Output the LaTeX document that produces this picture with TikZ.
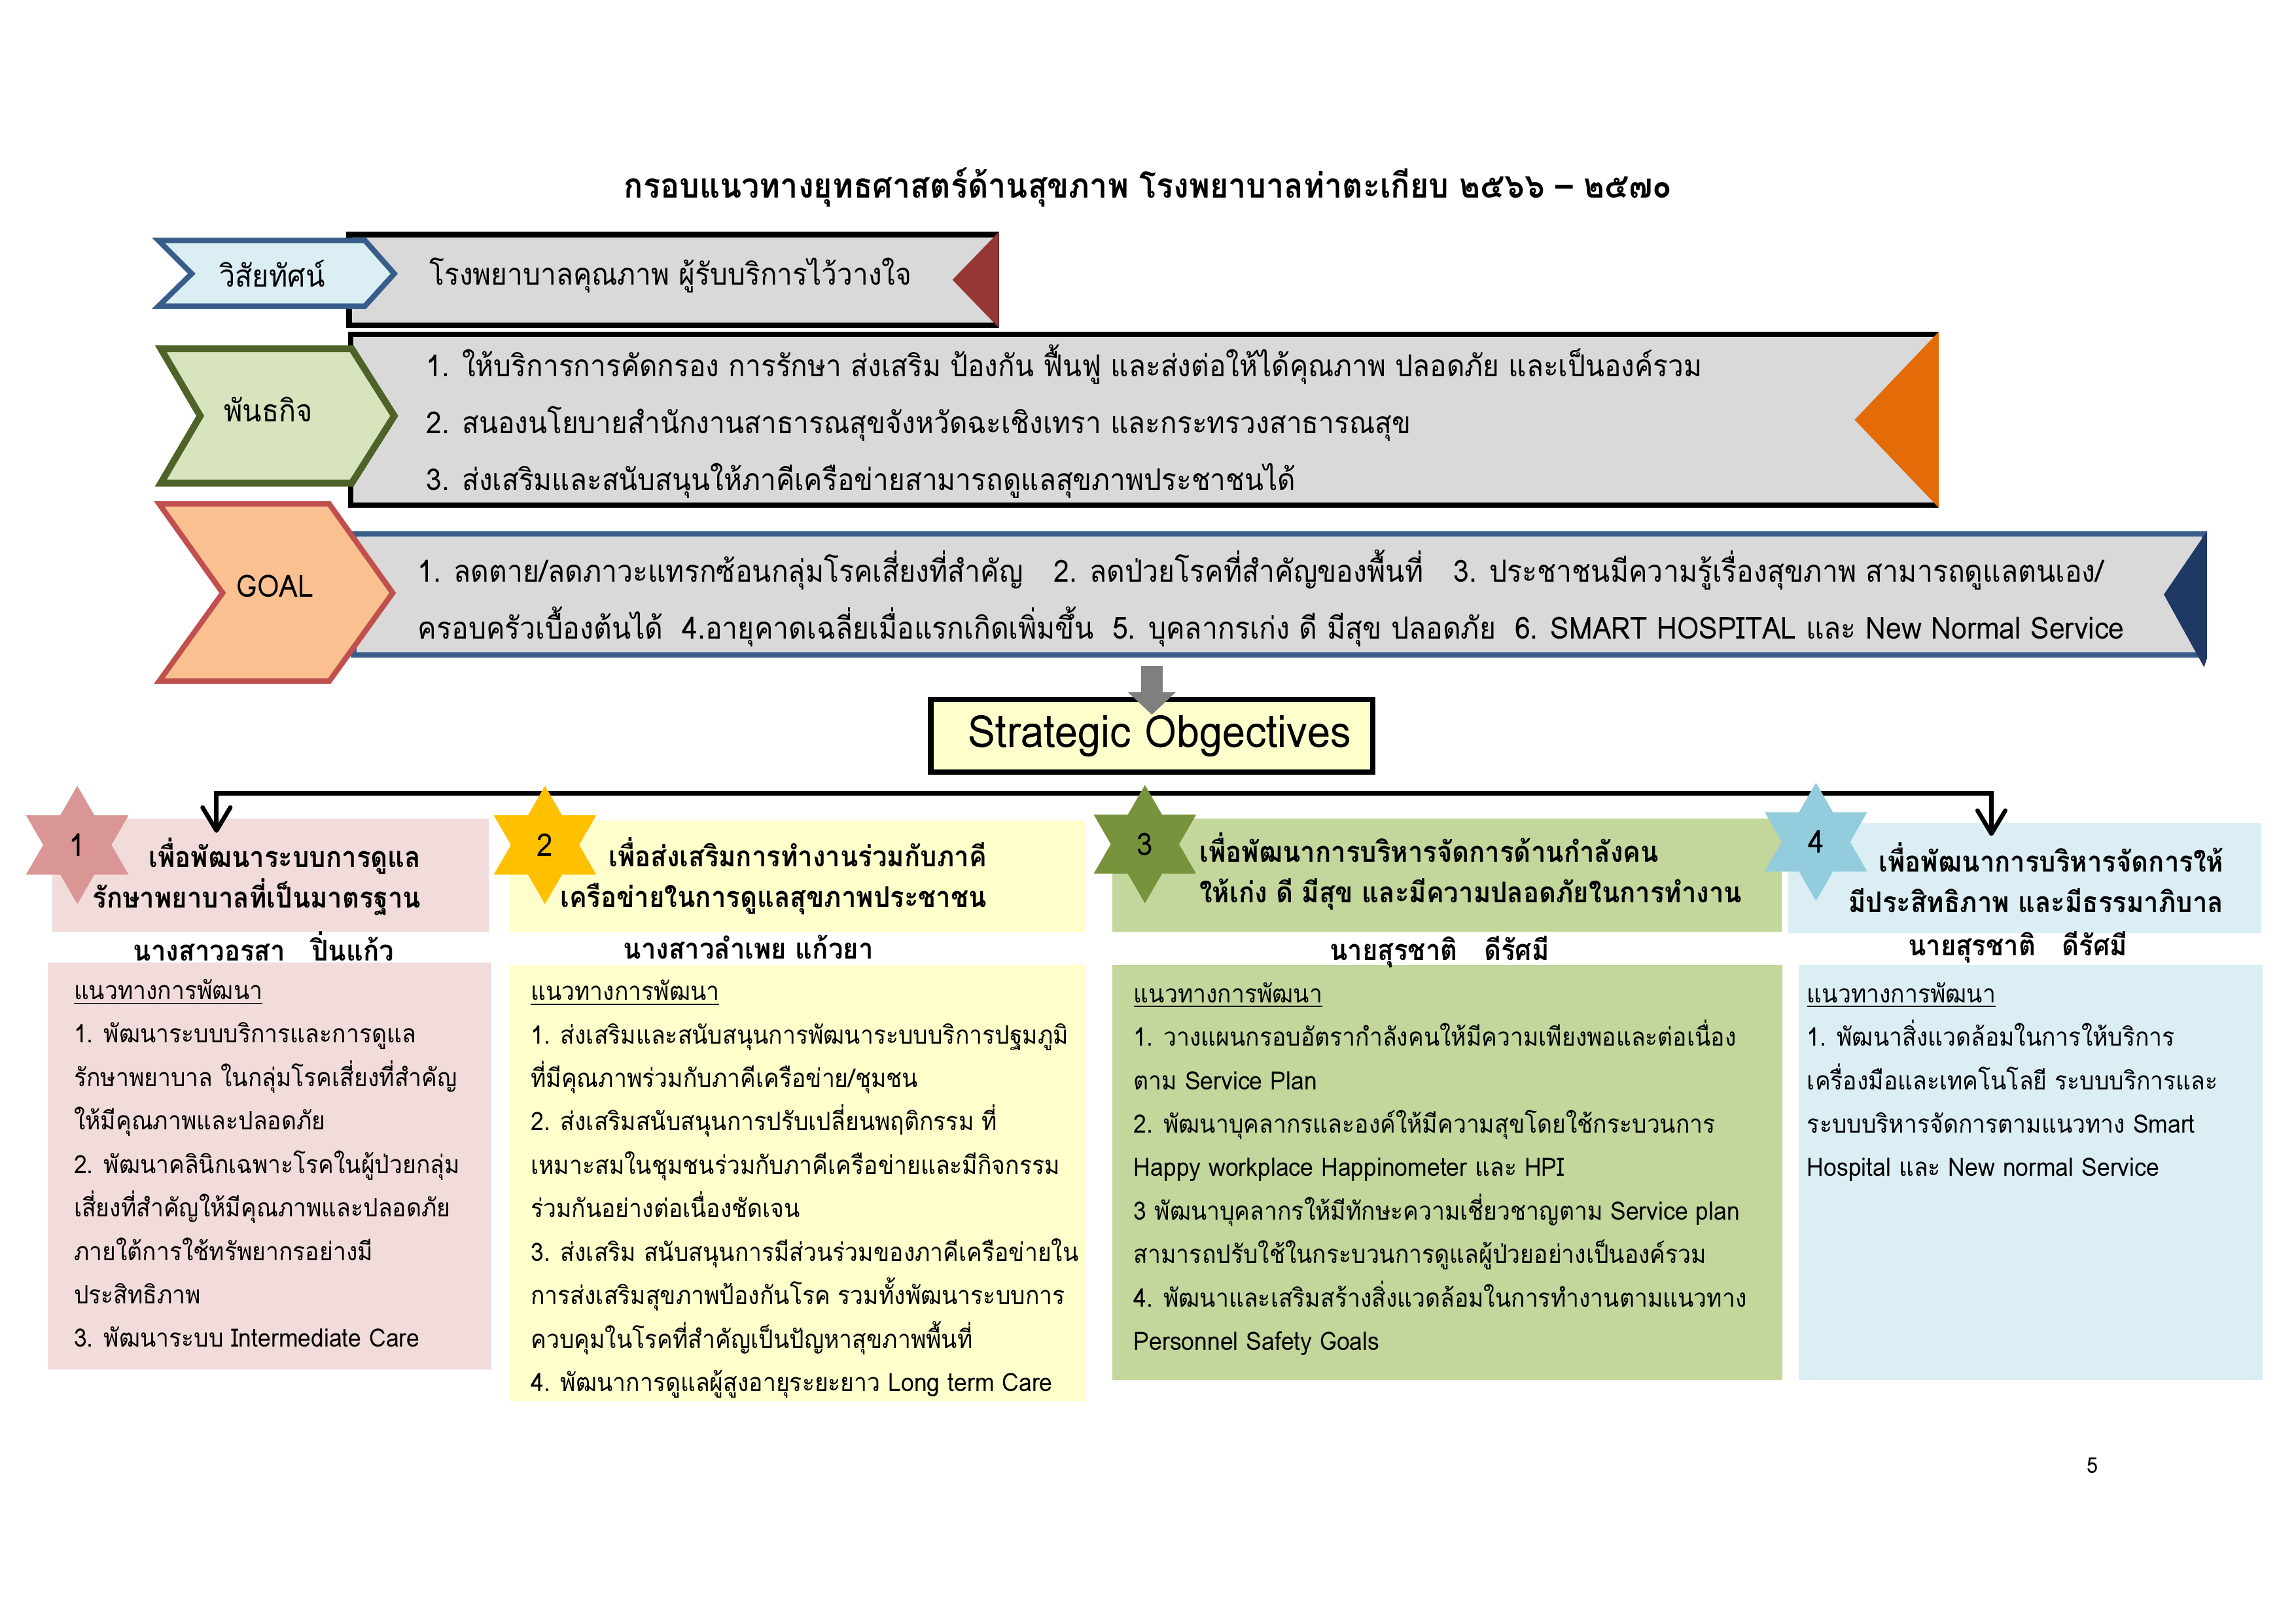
\documentclass[tikz,border=0pt]{standalone}
\usepackage{fontspec}
\setmainfont[Script=Thai,FakeStretch=0.92]{Loma}
\usetikzlibrary{arrows.meta,positioning,calc,shapes.geometric}
\definecolor{bargray}{RGB}{217,217,217}
\definecolor{visfill}{RGB}{218,238,243}
\definecolor{visline}{RGB}{56,93,138}
\definecolor{visred}{RGB}{149,55,53}
\definecolor{misfill}{RGB}{215,228,189}
\definecolor{misline}{RGB}{79,98,40}
\definecolor{misorange}{RGB}{227,108,9}
\definecolor{goalfill}{RGB}{250,192,144}
\definecolor{goalline}{RGB}{192,80,77}
\definecolor{goalnavy}{RGB}{31,56,100}
\definecolor{sofill}{RGB}{255,255,204}
\definecolor{arrowgray}{RGB}{127,127,127}
\definecolor{pinkpale}{RGB}{242,220,219}
\definecolor{pinkstar}{RGB}{217,150,148}
\definecolor{yellowpale}{RGB}{255,255,204}
\definecolor{goldstar}{RGB}{255,192,0}
\definecolor{greenpale}{RGB}{195,214,155}
\definecolor{greenstar}{RGB}{119,147,60}
\definecolor{bluepale}{RGB}{219,238,244}
\definecolor{bluestar}{RGB}{147,205,221}

\begin{document}
\begin{tikzpicture}[every node/.style={inner sep=0pt,align=left},
  banner/.style={draw,line width=2pt,fill=bargray,anchor=north west},
  chevron/.style={line width=2pt,line join=miter},
  chevtext/.style={font=\fontsize{11.3}{13}\selectfont},
  bartext/.style={anchor=west,font=\fontsize{11.1}{21}\selectfont},
  badge/.style={star,star points=6,star point ratio=1.732,minimum size=1.53cm,font=\fontsize{11.5}{13}\selectfont},
  headtext/.style={font=\bfseries\fontsize{10.5}{15}\selectfont},
  person/.style={font=\bfseries\fontsize{10.5}{12}\selectfont},
  bodybox/.style={anchor=north west},
  bodytext/.style={anchor=north west,font=\fontsize{9.3}{16}\selectfont},
  bus/.style={line width=1.6pt,{Straight Barb[length=0.3cm,width=0.36cm,round]}-{Straight Barb[length=0.3cm,width=0.36cm,round]}}]
  \useasboundingbox (0,0) rectangle (29.7,21);

  \node[font=\bfseries\fontsize{12.7}{14}\selectfont] (title) at (14.85,18.58) {กรอบแนวทางยุทธศาสตร์ด้านสุขภาพ โรงพยาบาลท่าตะเกียบ ๒๕๖๖ – ๒๕๗๐};

  % vision
  \node[banner,minimum width=8.37cm,minimum height=1.17cm] (visbar) at (4.48,18.00) {};
  \fill[visred] (visbar.north east) -- ($(visbar.east)+(-0.60,0)$) -- (visbar.south east) -- cycle;
  \node[bartext] (vistext) at (5.55,17.44) {โรงพยาบาลคุณภาพ ผู้รับบริการไว้วางใจ};
  \draw[chevron,draw=visline,fill=visfill] (2.05,17.89) -- (4.72,17.89) -- (5.10,17.46) -- (4.72,17.04) -- (2.05,17.04) -- (2.48,17.46) -- cycle;
  \node[chevtext] (vislabel) at (3.52,17.46) {วิสัยทัศน์};

  % mission
  \node[banner,minimum width=20.51cm,minimum height=2.21cm] (misbar) at (4.50,16.71) {};
  \fill[misorange] (misbar.north east) -- ($(misbar.east)+(-1.09,0)$) -- (misbar.south east) -- cycle;
  \node[bartext] (mistext) at (5.51,15.55) {1. ให้บริการการคัดกรอง การรักษา ส่งเสริม ป้องกัน ฟื้นฟู และส่งต่อให้ได้คุณภาพ ปลอดภัย และเป็นองค์รวม\\
    2. สนองนโยบายสำนักงานสาธารณสุขจังหวัดฉะเชิงเทรา และกระทรวงสาธารณสุข\\
    3. ส่งเสริมและสนับสนุนให้ภาคีเครือข่ายสามารถดูแลสุขภาพประชาชนได้};
  \draw[chevron,line width=2.5pt,draw=misline,fill=misfill] (2.08,16.49) -- (4.55,16.49) -- (5.10,15.62) -- (4.55,14.75) -- (2.08,14.75) -- (2.59,15.62) -- cycle;
  \node[chevtext] (mislabel) at (3.47,15.70) {พันธกิจ};

  % goal
  \node[banner,draw=visline,minimum width=23.94cm,minimum height=1.57cm] (goalbar) at (4.54,14.13) {};
  \fill[goalnavy] (goalbar.north east) -- ($(goalbar.east)+(-0.56,0)$) -- ([xshift=-0.04cm,yshift=-0.12cm]goalbar.south east) -- (goalbar.south east) -- cycle;
  \node[bartext,font=\fontsize{11.2}{21}\selectfont] (goaltext) at (5.40,13.26) {1. ลดตาย/ลดภาวะแทรกซ้อนกลุ่มโรคเสี่ยงที่สำคัญ\quad 2. ลดป่วยโรคที่สำคัญของพื้นที่\quad 3. ประชาชนมีความรู้เรื่องสุขภาพ สามารถดูแลตนเอง/\\
    ครอบครัวเบื้องต้นได้\ \ 4.อายุคาดเฉลี่ยเมื่อแรกเกิดเพิ่มขึ้น\ \ 5. บุคลากรเก่ง ดี มีสุข ปลอดภัย\ \ 6. SMART HOSPITAL และ New Normal Service};
  \draw[chevron,draw=goalline,fill=goalfill] (2.06,14.48) -- (4.26,14.48) -- (5.08,13.33) -- (4.26,12.19) -- (2.06,12.19) -- (2.88,13.33) -- cycle;
  \node[chevtext] (goallabel) at (3.56,13.42) {GOAL};

  % strategic objectives
  \node[draw,line width=2pt,fill=sofill,minimum width=5.72cm,minimum height=0.94cm,font=\fontsize{16.5}{18}\selectfont] (sobj) at (14.90,11.48) {\hspace{0.2cm}Strategic Obgectives};
  \coordinate (gtop) at ([yshift=-0.11cm]goalbar.south -| sobj.north);
  \draw[line width=0.28cm,arrowgray,-{Triangle[length=0.29cm,width=0.6cm]}] (gtop) -- ([yshift=-0.23cm]sobj.north);

  % four strategies
  \node[fill=pinkpale,minimum width=5.64cm,minimum height=1.46cm] (h1box) at (3.50,9.68) {};
  \node[fill=yellowpale,minimum width=7.44cm,minimum height=1.44cm] (h2box) at (10.31,9.67) {};
  \node[fill=greenpale,minimum width=8.66cm,minimum height=1.46cm] (h3box) at (18.72,9.68) {};
  \node[fill=bluepale,minimum width=6.12cm,minimum height=1.42cm] (h4box) at (26.19,9.64) {};

  \node[bodybox,fill=pinkpale,minimum width=5.74cm,minimum height=5.27cm] (b1box) at (0.61,8.56) {};
  \node[bodybox,fill=yellowpale,minimum width=7.44cm,minimum height=5.63cm] (b2box) at (6.59,8.52) {};
  \node[bodybox,fill=greenpale,minimum width=8.67cm,minimum height=5.36cm] (b3box) at (14.38,8.52) {};
  \node[bodybox,fill=bluepale,minimum width=6.00cm,minimum height=5.36cm] (b4box) at (23.26,8.52) {};

  \coordinate (busL) at (2.80,10.74);
  \coordinate (busR) at (25.76,10.74);
  \draw[bus] ([yshift=-0.19cm]busL |- h1box.north) |- (busR) -- ([yshift=-0.17cm]busR |- h4box.north);

  \node[badge,fill=pinkstar] (s1) at (1.00,10.07) {1};
  \node[badge,fill=goldstar] (s2) at (7.05,10.07) {2};
  \node[badge,fill=greenstar] (s3) at (14.81,10.08) {3};
  \node[badge,fill=bluestar] (s4) at (23.49,10.11) {4};

  \node[headtext,anchor=east,align=right] (h1text) at (5.45,9.66) {เพื่อพัฒนาระบบการดูแล\\รักษาพยาบาลที่เป็นมาตรฐาน};
  \node[headtext,anchor=east,align=right] (h2text) at (12.77,9.67) {เพื่อส่งเสริมการทำงานร่วมกับภาคี\\เครือข่ายในการดูแลสุขภาพประชาชน};
  \node[headtext,anchor=west] (h3text) at (15.51,9.73) {เพื่อพัฒนาการบริหารจัดการด้านกำลังคน\\ให้เก่ง ดี มีสุข และมีความปลอดภัยในการทำงาน};
  \node[headtext,anchor=east,align=right] (h4text) at (28.77,9.65) {เพื่อพัฒนาการบริหารจัดการให้\\มีประสิทธิภาพ และมีธรรมาภิบาล};

  \node[person] (p1) at (3.41,8.76) {นางสาวอรสา\ \ \ ปิ่นแก้ว};
  \node[person] (p2) at (9.68,8.75) {นางสาวลำเพย แก้วยา};
  \node[person] (p3) at (18.62,8.69) {นายสุรชาติ\ \ \ ดีรัศมี};
  \node[person] (p4) at (26.10,8.75) {นายสุรชาติ\ \ \ ดีรัศมี};

  \node[bodytext] (b1text) at ([xshift=0.34cm,yshift=-0.22cm]b1box.north west) {\underline{แนวทางการพัฒนา}\\
    1. พัฒนาระบบบริการและการดูแล\\
    รักษาพยาบาล ในกลุ่มโรคเสี่ยงที่สำคัญ\\
    ให้มีคุณภาพและปลอดภัย\\
    2. พัฒนาคลินิกเฉพาะโรคในผู้ป่วยกลุ่ม\\
    เสี่ยงที่สำคัญให้มีคุณภาพและปลอดภัย\\
    ภายใต้การใช้ทรัพยากรอย่างมี\\
    ประสิทธิภาพ\\
    3. พัฒนาระบบ Intermediate Care};
  \node[bodytext] (b2text) at ([xshift=0.27cm,yshift=-0.19cm]b2box.north west) {\underline{แนวทางการพัฒนา}\\
    1. ส่งเสริมและสนับสนุนการพัฒนาระบบบริการปฐมภูมิ\\
    ที่มีคุณภาพร่วมกับภาคีเครือข่าย/ชุมชน\\
    2. ส่งเสริมสนับสนุนการปรับเปลี่ยนพฤติกรรม ที่\\
    เหมาะสมในชุมชนร่วมกับภาคีเครือข่ายและมีกิจกรรม\\
    ร่วมกันอย่างต่อเนื่องชัดเจน\\
    3. ส่งเสริม สนับสนุนการมีส่วนร่วมของภาคีเครือข่ายใน\\
    การส่งเสริมสุขภาพป้องกันโรค รวมทั้งพัฒนาระบบการ\\
    ควบคุมในโรคที่สำคัญเป็นปัญหาสุขภาพพื้นที่\\
    4. พัฒนาการดูแลผู้สูงอายุระยะยาว Long term Care};
  \node[bodytext] (b3text) at ([xshift=0.28cm,yshift=-0.22cm]b3box.north west) {\underline{แนวทางการพัฒนา}\\
    1. วางแผนกรอบอัตรากำลังคนให้มีความเพียงพอและต่อเนื่อง\\
    ตาม Service Plan\\
    2. พัฒนาบุคลากรและองค์ให้มีความสุขโดยใช้กระบวนการ\\
    Happy workplace Happinometer และ HPI\\
    3 พัฒนาบุคลากรให้มีทักษะความเชี่ยวชาญตาม Service plan\\
    สามารถปรับใช้ในกระบวนการดูแลผู้ป่วยอย่างเป็นองค์รวม\\
    4. พัฒนาและเสริมสร้างสิ่งแวดล้อมในการทำงานตามแนวทาง\\
    Personnel Safety Goals};
  \node[bodytext] (b4text) at ([xshift=0.11cm,yshift=-0.22cm]b4box.north west) {\underline{แนวทางการพัฒนา}\\
    1. พัฒนาสิ่งแวดล้อมในการให้บริการ\\
    เครื่องมือและเทคโนโลยี ระบบบริการและ\\
    ระบบบริหารจัดการตามแนวทาง Smart\\
    Hospital และ New normal Service};

  \node[font=\fontsize{8}{10}\selectfont] (pagenum) at (27.07,2.04) {5};
\end{tikzpicture}
\end{document}
